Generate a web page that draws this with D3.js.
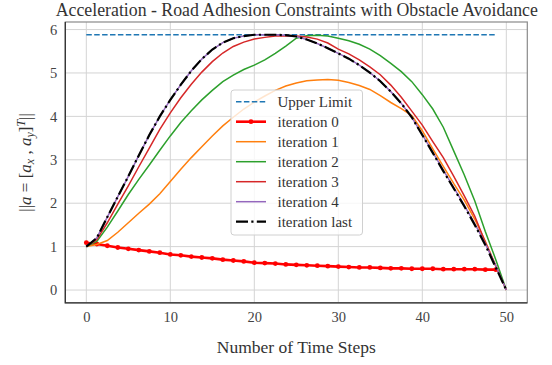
<!DOCTYPE html>
<head>
  <meta charset="utf-8">
  <script src="https://d3js.org/d3.v7.min.js"></script>
  <style>
    body { margin: 0; padding: 0; background: #fff; }
    text { font-family: "Liberation Serif", "DejaVu Serif", serif; }
  </style>
</head>
<body>
  <script>
    // time steps (41 samples, step 1.25)
    var steps = [0, 1.25, 2.5, 3.75, 5, 6.25, 7.5, 8.75, 10, 11.25, 12.5, 13.75, 15, 16.25, 17.5, 18.75,
      20, 21.25, 22.5, 23.75, 25, 26.25, 27.5, 28.75, 30, 31.25, 32.5, 33.75, 35, 36.25, 37.5, 38.75,
      40, 41.25, 42.5, 43.75, 45, 46.25, 47.5, 48.75, 50];
    var upperLimit = 5.88,
      limitSteps = [0, 48.75];

    var iter0 = [1.09, 1.06, 1.02, 0.98, 0.95, 0.92, 0.89, 0.86, 0.82, 0.80, 0.77, 0.75, 0.73, 0.70, 0.68, 0.66,
      0.63, 0.62, 0.61, 0.59, 0.58, 0.57, 0.56, 0.55, 0.54, 0.53, 0.52, 0.52, 0.51, 0.50, 0.50, 0.49,
      0.49, 0.49, 0.48, 0.48, 0.48, 0.48, 0.47, 0.47];
    var iter1 = [1.0, 1.05, 1.14, 1.33, 1.55, 1.77, 1.98, 2.22, 2.5, 2.78, 3.05, 3.3, 3.55, 3.78, 3.98, 4.17,
      4.33, 4.47, 4.6, 4.7, 4.77, 4.82, 4.84, 4.85, 4.83, 4.78, 4.71, 4.62, 4.48, 4.32, 4.18, 4.02,
      3.67, 3.25, 2.85, 2.45, 2.07, 1.63, 1.12, 0.56, 0];
    var iter2 = [1.0, 1.12, 1.45, 1.82, 2.2, 2.55, 2.88, 3.22, 3.55, 3.86, 4.13, 4.38, 4.6, 4.8, 4.95, 5.08,
      5.18, 5.3, 5.45, 5.62, 5.8, 5.86, 5.87, 5.85, 5.8, 5.74, 5.66, 5.55, 5.4, 5.22, 5.03, 4.8,
      4.5, 4.17, 3.75, 3.2, 2.65, 2.05, 1.35, 0.7, 0];
    var iter3 = [1.0, 1.16, 1.55, 1.98, 2.4, 2.84, 3.27, 3.7, 4.08, 4.43, 4.74, 5.02, 5.26, 5.46, 5.61, 5.71,
      5.78, 5.82, 5.85, 5.86, 5.85, 5.83, 5.78, 5.69, 5.55, 5.44, 5.3, 5.14, 4.96, 4.72, 4.44, 4.12,
      3.8, 3.42, 3.05, 2.62, 2.17, 1.7, 1.1, 0.55, 0];
    var iter4 = [1.0, 1.2, 1.68, 2.15, 2.62, 3.1, 3.57, 4.0, 4.38, 4.73, 5.05, 5.32, 5.54, 5.7, 5.8, 5.85,
      5.88, 5.88, 5.88, 5.87, 5.84, 5.77, 5.68, 5.57, 5.45, 5.33, 5.18, 5.01, 4.81, 4.57, 4.3, 3.98,
      3.58, 3.17, 2.76, 2.36, 1.95, 1.53, 1.07, 0.56, 0];
    var iterLast = [1.0, 1.2, 1.68, 2.15, 2.62, 3.1, 3.57, 4.0, 4.38, 4.73, 5.05, 5.32, 5.54, 5.7, 5.8, 5.85,
      5.88, 5.88, 5.88, 5.87, 5.84, 5.77, 5.68, 5.57, 5.45, 5.33, 5.18, 5.01, 4.81, 4.57, 4.3, 3.98,
      3.57, 3.16, 2.74, 2.34, 1.93, 1.5, 1.04, 0.52, 0];

    var xTicks = [0, 10, 20, 30, 40, 50],
      yTicks = [0, 1, 2, 3, 4, 5, 6];

    var width = 552,
      height = 365;
    var margin = { top: 22, right: 24.7, bottom: 62.2, left: 65.3 };

    var svg = d3.select("body").append("svg")
      .attr("width", width)
      .attr("height", height);

    var x = d3.scaleLinear().domain([-2.5, 52.5]).range([margin.left, width - margin.right]);
    var y = d3.scaleLinear().domain([-0.294, 6.174]).range([height - margin.bottom, margin.top]);

    // grid
    var grid = svg.append("g");
    grid.selectAll(".gx").data(xTicks).enter().append("line")
      .attr("x1", d => x(d)).attr("x2", d => x(d))
      .attr("y1", y.range()[0]).attr("y2", y.range()[1])
      .attr("stroke", "#d4d4d4").attr("stroke-width", 1);
    grid.selectAll(".gy").data(yTicks).enter().append("line")
      .attr("y1", d => y(d)).attr("y2", d => y(d))
      .attr("x1", x.range()[0]).attr("x2", x.range()[1])
      .attr("stroke", "#d4d4d4").attr("stroke-width", 1);

    // axes (labels only, no tick marks)
    var xAxis = svg.append("g")
      .attr("transform", "translate(0," + (height - margin.bottom) + ")")
      .call(d3.axisBottom(x).tickValues(xTicks).tickFormat(d3.format("d")).tickSize(0).tickPadding(9));
    var yAxis = svg.append("g")
      .attr("transform", "translate(" + margin.left + ",0)")
      .call(d3.axisLeft(y).tickValues(yTicks).tickFormat(d3.format("d")).tickSize(0).tickPadding(8));
    [xAxis, yAxis].forEach(function (g) {
      g.select(".domain").remove();
      g.selectAll("text")
        .style("font-family", "'Liberation Serif', serif")
        .style("font-size", "14.5px")
        .attr("fill", "#444");
    });

    // frame
    svg.append("rect")
      .attr("x", x.range()[0]).attr("y", y.range()[1])
      .attr("width", x.range()[1] - x.range()[0])
      .attr("height", y.range()[0] - y.range()[1])
      .attr("fill", "none").attr("stroke", "#8a8a8a").attr("stroke-width", 1.2);
    svg.append("path")
      .attr("d", "M" + x.range()[0] + "," + y.range()[1] + "V" + y.range()[0] + "H" + x.range()[1])
      .attr("fill", "none").attr("stroke", "#333").attr("stroke-width", 1.3);

    var line = d3.line()
      .x(d => x(d[0]))
      .y(d => y(d[1]));

    function pairs(vals) {
      return vals.map(function (v, i) { return [steps[i], v]; });
    }

    var series = [
      { name: "iteration 1", vals: iter1, color: "#ff7f0e", w: 1.5, dash: null },
      { name: "iteration 2", vals: iter2, color: "#2ca02c", w: 1.5, dash: null },
      { name: "iteration 3", vals: iter3, color: "#d62728", w: 1.5, dash: null },
      { name: "iteration 4", vals: iter4, color: "#9467bd", w: 1.5, dash: null },
      { name: "iteration last", vals: iterLast, color: "#000", w: 2.2, dash: "12,3.3,2.2,3.3" }
    ];

    // upper limit
    svg.append("path")
      .datum(limitSteps.map(s => [s, upperLimit]))
      .attr("d", line)
      .attr("fill", "none")
      .attr("stroke", "#1f77b4")
      .attr("stroke-width", 1.5)
      .attr("stroke-dasharray", "5.5,2.4");

    // iteration 0
    svg.append("path")
      .datum(pairs(iter0))
      .attr("d", line)
      .attr("fill", "none")
      .attr("stroke", "#ff0000")
      .attr("stroke-width", 2.6);
    svg.selectAll(".m0").data(pairs(iter0)).enter().append("circle")
      .attr("cx", d => x(d[0]))
      .attr("cy", d => y(d[1]))
      .attr("r", 2.4)
      .attr("fill", "#ff0000");

    series.forEach(function (s) {
      svg.append("path")
        .datum(pairs(s.vals))
        .attr("d", line)
        .attr("fill", "none")
        .attr("stroke", s.color)
        .attr("stroke-width", s.w)
        .attr("stroke-dasharray", s.dash);
    });

    // legend
    var legend = svg.append("g").attr("transform", "translate(231,90)");
    legend.append("rect")
      .attr("width", 131.5).attr("height", 145)
      .attr("rx", 3)
      .attr("fill", "#fff").attr("fill-opacity", 0.8)
      .attr("stroke", "#d0d0d0").attr("stroke-width", 1);

    var legendItems = [
      { name: "Upper Limit", color: "#1f77b4", w: 1.5, dash: "5.5,2.4" },
      { name: "iteration 0", color: "#ff0000", w: 2.6, dash: null, marker: true }
    ].concat(series);

    var rows = legend.selectAll(".row").data(legendItems).enter().append("g")
      .attr("transform", (d, i) => "translate(0," + (11.7 + i * 20) + ")");
    rows.append("line")
      .attr("x1", 5).attr("x2", 35)
      .attr("stroke", d => d.color)
      .attr("stroke-width", d => d.w)
      .attr("stroke-dasharray", d => d.dash);
    rows.filter(d => d.marker).append("circle")
      .attr("cx", 20).attr("r", 2.4).attr("fill", "#ff0000");
    rows.append("text")
      .attr("x", 46.5).attr("y", 5)
      .attr("font-size", 15)
      .attr("fill", "#333")
      .text(d => d.name);

    // title and axis labels
    svg.append("text")
      .attr("x", (x.range()[0] + x.range()[1]) / 2 + 0.5)
      .attr("y", 16)
      .attr("text-anchor", "middle")
      .attr("font-size", 17.8)
      .attr("fill", "#333")
      .text("Acceleration - Road Adhesion Constraints with Obstacle Avoidance");

    svg.append("text")
      .attr("x", (x.range()[0] + x.range()[1]) / 2)
      .attr("y", 353)
      .attr("text-anchor", "middle")
      .attr("font-size", 17.5)
      .attr("fill", "#333")
      .text("Number of Time Steps");

    var yl = svg.append("text")
      .attr("transform", "translate(31," + ((y.range()[0] + y.range()[1]) / 2) + ") rotate(-90)")
      .attr("text-anchor", "middle")
      .attr("font-size", 17)
      .attr("fill", "#333");
    yl.append("tspan").text("||");
    yl.append("tspan").attr("font-style", "italic").text("a");
    yl.append("tspan").text(" = [");
    yl.append("tspan").attr("font-style", "italic").text("a");
    yl.append("tspan").attr("font-style", "italic").attr("font-size", 12).attr("dy", 3).text("x");
    yl.append("tspan").attr("dy", -3).text(" , ");
    yl.append("tspan").attr("font-style", "italic").text("a");
    yl.append("tspan").attr("font-style", "italic").attr("font-size", 12).attr("dy", 3).text("y");
    yl.append("tspan").attr("dy", -3).text("]");
    yl.append("tspan").attr("font-style", "italic").attr("font-size", 12).attr("dy", -6).text("T");
    yl.append("tspan").attr("dy", 6).text("||");
  </script>
</body>
